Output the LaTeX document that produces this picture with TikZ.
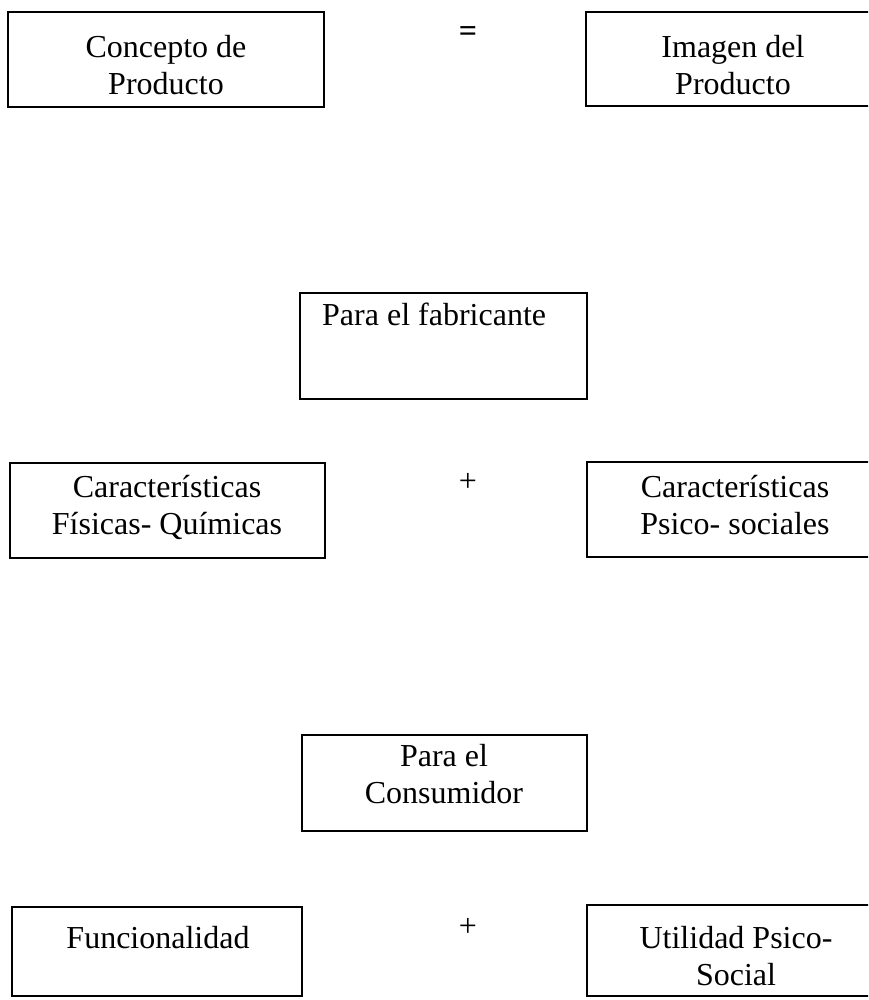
\documentclass[tikz,border=0pt]{standalone}
\usepackage{fontspec}
\setmainfont{Liberation Serif}
\begin{document}
\begin{tikzpicture}[x=1pt,y=-1pt,
  box/.style={draw=black, line width=1.6pt, rectangle, inner sep=0pt, outer sep=0pt, anchor=north west},
  lbl/.style={inner sep=0pt, align=center, font=\fontsize{32}{37}\selectfont},
  sign/.style={inner sep=0pt, font=\fontsize{32}{37}\selectfont}]
\useasboundingbox (0,0) rectangle (868,1000);
\clip (0,0) rectangle (868,1000);
% top row (label anchors sit on the last line's baseline)
\node[box, minimum width=316pt, minimum height=95pt] (concepto) at (8,12) {};
\node[lbl, anchor=base] (conceptoT) at (166,95) {Concepto de\\Producto};
\node[sign, font=\fontsize{32}{37}\selectfont\bfseries] (eq) at (468,34) {=};
\node[box, minimum width=294pt, minimum height=94pt] (imagen) at (586,12) {};
\node[lbl, anchor=base] (imagenT) at (733,95) {Imagen del\\Producto};
% manufacturer view
\node[box, minimum width=287pt, minimum height=106pt] (fabricante) at (300,293) {};
\node[lbl, anchor=base west] (fabricanteT) at (322,325) {Para el fabricante};
\node[box, minimum width=315pt, minimum height=95pt] (fisicas) at (10,463) {};
\node[lbl, anchor=base] (fisicasT) at (167,534) {Características\\Físicas- Químicas};
\node[sign] (plusA) at (468,482) {+};
\node[box, minimum width=293pt, minimum height=95pt] (psico) at (587,462) {};
\node[lbl, anchor=base] (psicoT) at (735,534) {Características\\Psico- sociales};
% consumer view
\node[box, minimum width=285pt, minimum height=96pt] (consumidor) at (302,735) {};
\node[lbl, anchor=base] (consumidorT) at (444,803) {Para el\\Consumidor};
\node[box, minimum width=290pt, minimum height=89pt] (funcional) at (12,907) {};
\node[lbl, anchor=base] (funcionalT) at (158,948) {Funcionalidad};
\node[sign] (plusB) at (468,927) {+};
\node[box, minimum width=293pt, minimum height=91pt] (utilidad) at (587,905) {};
\node[lbl, anchor=base] (utilidadT) at (736,985) {Utilidad Psico-\\Social};
\end{tikzpicture}
\end{document}
